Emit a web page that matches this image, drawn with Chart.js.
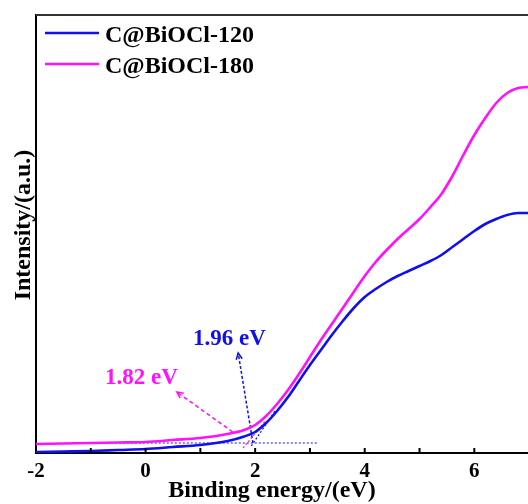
<!DOCTYPE html>
<html lang="en">
<head>
    <meta charset="UTF-8">
    <title>C@BiOCl UV-vis</title>
    <script src="https://cdn.jsdelivr.net/npm/chart.js"></script>
    <style>
        html, body { margin: 0; padding: 0; background: #fff; }
        #wrap { width: 528px; height: 504px; }
    </style>
</head>
<body>
    <div id="wrap"><canvas id="uvChart" width="528" height="504"></canvas></div>

    <script>
        // Binding energy (eV) and intensity (a.u.)
        const energy = [-2, -1.5, -1, -0.5, 0, 0.5, 1, 1.5, 1.8, 2, 2.2, 2.4, 2.6, 2.8, 3, 3.2, 3.4, 3.6, 3.8, 4,
                        4.2, 4.4, 4.6, 4.8, 5, 5.2, 5.4, 5.6, 5.8, 6, 6.2, 6.4, 6.6, 6.8, 6.98];
        const bioc120 = [1, 1.5, 2, 3, 4, 6, 8, 12, 16.5, 21, 30, 42, 56, 72, 88, 103, 118, 132, 145, 156,
                         164, 171, 177, 182, 187, 192, 198, 206, 214, 222, 229, 234, 238, 240, 240];
        const bioc180 = [9, 9.5, 10, 10.5, 11, 13, 15, 19, 23, 28, 37, 49, 63, 79, 96, 113, 129, 145, 161, 177,
                         191, 203, 214, 224, 234, 246, 259, 277, 298, 318, 335, 350, 360, 365, 366];

        const xTicks = [-2, -1, 0, 1, 2, 3, 4, 5, 6];
        const xTickLabels = ['-2', '', '0', '', '2', '', '4', '', '6'];

        // tangent / baseline construction and arrows
        const baseLine = [[-1, 10], [3.15, 10]];
        const tangent120 = [[1.93, 7], [2.36, 42]];
        const tangent180 = [[1.78, 5], [2.20, 33]];
        const arrow120 = [[1.96, 10], [1.69, 100]];
        const arrow180 = [[1.59, 21], [0.57, 61]];
        const gapLabels = ['1.96 eV', '1.82 eV'];

        const BLUE = '#1010ee';
        const PINK = '#ff10ff';
        const FONT = "'Liberation Serif', 'Times New Roman', serif";

        const pts = (xs, ys) => xs.map((x, i) => ({ x: x, y: ys[i] }));
        const pairs = arr => arr.map(p => ({ x: p[0], y: p[1] }));

        // draws frame, ticks, texts, legend and arrow heads
        const decor = {
            id: 'decor',
            afterDraw(chart) {
                const ctx = chart.ctx;
                const a = chart.chartArea;
                const xs = chart.scales.x, ys = chart.scales.y;
                ctx.save();

                // top frame line
                ctx.strokeStyle = '#333';
                ctx.lineWidth = 2;
                ctx.beginPath();
                ctx.moveTo(a.left, a.top);
                ctx.lineTo(a.right, a.top);
                ctx.stroke();

                // inward ticks + labels
                ctx.strokeStyle = '#000';
                ctx.fillStyle = '#000';
                ctx.font = 'bold 21px ' + FONT;
                ctx.textAlign = 'center';
                ctx.textBaseline = 'alphabetic';
                xTicks.forEach((v, i) => {
                    const px = xs.getPixelForValue(v);
                    if (i > 0) {
                        ctx.beginPath();
                        ctx.moveTo(px, a.bottom);
                        ctx.lineTo(px, a.bottom - 5);
                        ctx.stroke();
                    }
                    if (xTickLabels[i]) ctx.fillText(xTickLabels[i], px, 477);
                });

                // axis titles
                ctx.font = 'bold 24px ' + FONT;
                ctx.fillText('Binding energy/(eV)', 272, 497);
                ctx.save();
                ctx.translate(30, 225);
                ctx.rotate(-Math.PI / 2);
                ctx.fillText('Intensity/(a.u.)', 0, 0);
                ctx.restore();

                // legend
                ctx.textAlign = 'left';
                chart.data.datasets.slice(0, 2).forEach((ds, i) => {
                    const y = 33 + i * 31;
                    ctx.strokeStyle = ds.borderColor;
                    ctx.lineWidth = 2.5;
                    ctx.beginPath();
                    ctx.moveTo(45, y);
                    ctx.lineTo(99, y);
                    ctx.stroke();
                    ctx.fillStyle = '#000';
                    ctx.fillText(ds.label, 105, y + 9);
                });

                // arrow heads
                chart.data.datasets.forEach(ds => {
                    if (!ds.arrow) return;
                    const p1 = ds.data[0], p2 = ds.data[ds.data.length - 1];
                    const x1 = xs.getPixelForValue(p1.x), y1 = ys.getPixelForValue(p1.y);
                    const x2 = xs.getPixelForValue(p2.x), y2 = ys.getPixelForValue(p2.y);
                    const ang = Math.atan2(y2 - y1, x2 - x1);
                    ctx.strokeStyle = ds.borderColor;
                    ctx.lineWidth = 1.5;
                    ctx.beginPath();
                    ctx.moveTo(x2 - 7 * Math.cos(ang - 0.45), y2 - 7 * Math.sin(ang - 0.45));
                    ctx.lineTo(x2, y2);
                    ctx.lineTo(x2 - 7 * Math.cos(ang + 0.45), y2 - 7 * Math.sin(ang + 0.45));
                    ctx.stroke();
                });

                // band gap labels
                ctx.font = 'bold 23px ' + FONT;
                ctx.fillStyle = BLUE;
                ctx.fillText(gapLabels[0], 193, 345);
                ctx.fillStyle = PINK;
                ctx.fillText(gapLabels[1], 105, 384);

                ctx.restore();
            }
        };

        new Chart(document.getElementById('uvChart'), {
            type: 'line',
            data: {
                datasets: [
                    { label: 'C@BiOCl-120', data: pts(energy, bioc120), borderColor: BLUE, borderWidth: 2.6 },
                    { label: 'C@BiOCl-180', data: pts(energy, bioc180), borderColor: PINK, borderWidth: 2.6 },
                    { label: 'base', data: pairs(baseLine), borderColor: BLUE, borderWidth: 1.2, borderDash: [2, 2] },
                    { label: 't120', data: pairs(tangent120), borderColor: BLUE, borderWidth: 1.2, borderDash: [2, 2] },
                    { label: 't180', data: pairs(tangent180), borderColor: PINK, borderWidth: 1.2, borderDash: [2, 2] },
                    { label: 'a120', data: pairs(arrow120), borderColor: BLUE, borderWidth: 1.5, borderDash: [3, 2], arrow: true },
                    { label: 'a180', data: pairs(arrow180), borderColor: PINK, borderWidth: 1.5, borderDash: [4, 3], arrow: true }
                ]
            },
            options: {
                responsive: false,
                animation: false,
                events: [],
                layout: { padding: { top: 15, left: 0, right: 0, bottom: 0 } },
                elements: {
                    point: { radius: 0 },
                    line: { cubicInterpolationMode: 'monotone', fill: false }
                },
                plugins: { legend: { display: false }, tooltip: { enabled: false } },
                scales: {
                    x: {
                        type: 'linear', min: -2, max: 6.98,
                        grid: { display: false, drawTicks: false },
                        border: { display: true, color: '#000', width: 2 },
                        ticks: { display: false },
                        afterFit(s) { s.height = 51; }
                    },
                    y: {
                        min: 0, max: 438,
                        grid: { display: false, drawTicks: false },
                        border: { display: true, color: '#000', width: 2 },
                        ticks: { display: false },
                        afterFit(s) { s.width = 36; }
                    }
                }
            },
            plugins: [decor]
        });
    </script>
</body>
</html>
